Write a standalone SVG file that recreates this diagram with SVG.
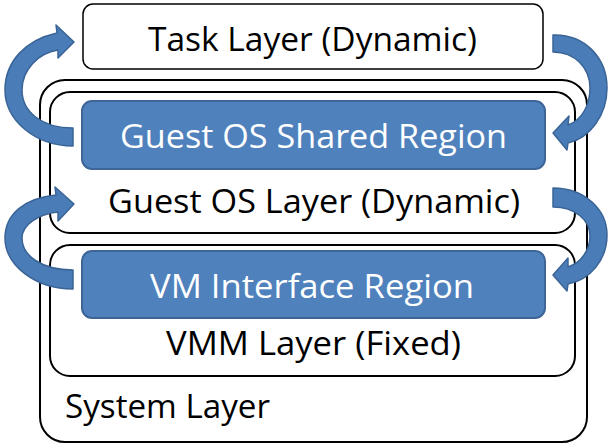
<svg xmlns="http://www.w3.org/2000/svg" width="609" height="445" viewBox="0 0 609 445">
<style>
.box{fill:#fff;stroke:#000;stroke-width:2}
.region{fill:#4f81bd;stroke:#3e6597;stroke-width:2}
.t{font-family:"Open Sans","Noto Sans","DejaVu Sans",sans-serif;font-size:32px;fill:#000}
.w{fill:#fff}
.arrow{fill:#4a7cb8;stroke:#3a6496;stroke-width:1.5;stroke-linejoin:round}
</style>
<rect width="609" height="445" fill="#fff"/>
<g id="system-layer">
<rect class="box" x="40" y="80" width="547" height="362" rx="25"/>
<text class="t" x="65" y="418" textLength="205" lengthAdjust="spacingAndGlyphs">System Layer</text>
</g>
<g id="guest-os-layer">
<rect class="box" x="50" y="92" width="525" height="141" rx="20"/>
<text class="t" x="314" y="213" text-anchor="middle" textLength="412" lengthAdjust="spacingAndGlyphs">Guest OS Layer (Dynamic)</text>
</g>
<g id="guest-os-shared-region">
<rect class="region" x="82" y="101" width="463" height="68" rx="10"/>
<text class="t w" x="313.5" y="148" text-anchor="middle" textLength="387" lengthAdjust="spacingAndGlyphs">Guest OS Shared Region</text>
</g>
<g id="vmm-layer">
<rect class="box" x="50" y="245" width="525" height="131" rx="20"/>
<text class="t" x="313.5" y="355" text-anchor="middle" textLength="295" lengthAdjust="spacingAndGlyphs">VMM Layer (Fixed)</text>
</g>
<g id="vm-interface-region">
<rect class="region" x="82" y="251" width="463" height="67" rx="10"/>
<text class="t w" x="312" y="298" text-anchor="middle" textLength="324" lengthAdjust="spacingAndGlyphs">VM Interface Region</text>
</g>
<g id="task-layer">
<rect class="box" x="83" y="4" width="460" height="65" rx="10" style="stroke-width:1.5"/>
<text class="t" x="312.5" y="51" text-anchor="middle" textLength="329" lengthAdjust="spacingAndGlyphs">Task Layer (Dynamic)</text>
</g>
<g id="connectors">
<path class="arrow" d="M73,146 C35,146 5,120 5,90 C5,62 25,40 57,33 L56,25 L74,42 L58,58 L58,50 C38,53 22,70 22,90 C22,112 42,128 73,128 Z"/>
<path class="arrow" d="M73,289 C35,289 5,265 5,238 C5,214 25,198 56,195 L55,187 L74,204 L58,221 L58,212 C38,214 22,225 22,238 C22,256 42,270 73,270 Z"/>
<path class="arrow" d="M553,35 C585,34 607,58 607,88 C607,115 590,138 568,143 L567,150 L553,133 L569,116 L568,125 C582,120 590,105 590,88 C590,68 575,52 553,52 Z"/>
<path class="arrow" d="M553,188 C585,188 607,210 607,235 C607,260 590,280 568,284 L567,291 L553,275 L568,258 L568,267 C581,263 590,250 590,236 C590,220 575,207 553,207 Z"/>
</g>
</svg>
